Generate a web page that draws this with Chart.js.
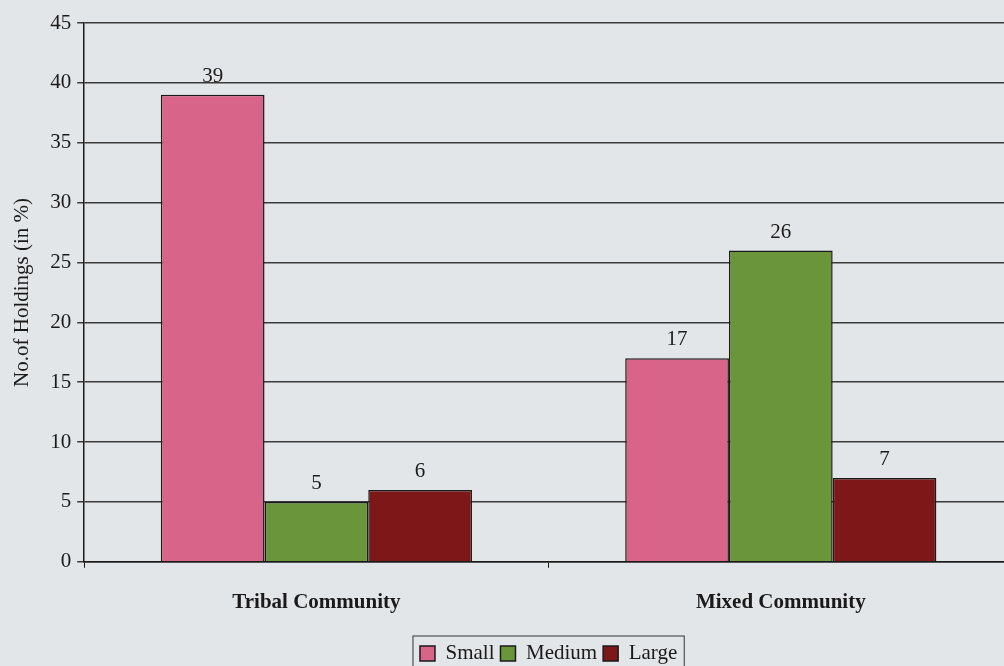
<!DOCTYPE html>
<html>
<head>
<meta charset="utf-8">
<script src="https://cdn.jsdelivr.net/npm/chart.js@4.4.1/dist/chart.umd.min.js"></script>
<style>
  html, body { margin: 0; padding: 0; overflow: hidden; background: #e3e6e9; }
  #wrap { width: 1013px; height: 666px; position: relative; }
</style>
</head>
<body>
<div id="wrap"><canvas id="myChart"></canvas></div>
<script>
// chart data
const categories = ['Tribal Community', 'Mixed Community'];
const small = [39, 17];
const medium = [5, 26];
const large = [6, 7];
const seriesNames = ['Small', 'Medium', 'Large'];
const yTicks = [0, 5, 10, 15, 20, 25, 30, 35, 40, 45];

const serif = '"Liberation Serif", "Times New Roman", serif';
const ink = '#1a1a1a';

// value labels above each bar
const barValues = {
    id: 'barValues',
    afterDatasetsDraw(chart) {
        const ctx = chart.ctx;
        ctx.save();
        ctx.font = '21px ' + serif;
        ctx.fillStyle = ink;
        ctx.textAlign = 'center';
        ctx.textBaseline = 'bottom';
        chart.data.datasets.forEach((ds, i) => {
            chart.getDatasetMeta(i).data.forEach((bar, j) => {
                ctx.fillText(ds.data[j], bar.x, bar.y - 8);
            });
        });
        ctx.restore();
    }
};

// box round the legend
const legendFrame = {
    id: 'legendFrame',
    afterDraw(chart) {
        const items = chart.legend.legendHitBoxes;
        if (!items.length) return;
        const x0 = items[0].left - 7;
        const last = items[items.length - 1];
        const x1 = last.left + last.width + 7;
        const ctx = chart.ctx;
        ctx.save();
        ctx.strokeStyle = '#333';
        ctx.lineWidth = 1;
        ctx.strokeRect(x0, items[0].top - 7, x1 - x0, 60);
        ctx.restore();
    }
};

const ctx = document.getElementById('myChart').getContext('2d');

const myChart = new Chart(ctx, {
    type: 'bar',
    data: {
        labels: categories,
        datasets: [
            { label: seriesNames[0], data: small, backgroundColor: '#d9648a' },
            { label: seriesNames[1], data: medium, backgroundColor: '#6a953a' },
            { label: seriesNames[2], data: large, backgroundColor: '#7e1818' }
        ].map(d => Object.assign(d, {
            borderColor: ink,
            borderWidth: 1.5,
            barPercentage: 1,
            categoryPercentage: 0.67
        }))
    },
    options: {
        responsive: true,
        maintainAspectRatio: false,
        animation: false,
        layout: { padding: { top: 23, left: 10, right: 0, bottom: -8 } },
        plugins: {
            tooltip: { enabled: false },
            legend: {
                position: 'bottom',
                fullSize: false,
                labels: {
                    font: { family: serif, size: 21 },
                    color: ink,
                    boxWidth: 15,
                    boxHeight: 15,
                    padding: 6,
                    useBorderRadius: false
                }
            }
        },
        scales: {
            x: {
                grid: { drawOnChartArea: false, color: ink, tickLength: 6, lineWidth: 1 },
                border: { color: ink, width: 1.5 },
                ticks: { font: { family: serif, size: 21, weight: 'bold' }, color: ink, padding: 22 }
            },
            y: {
                min: 0,
                max: 45,
                afterBuildTicks(axis) { axis.ticks = yTicks.map(v => ({ value: v })); },
                grid: { color: '#3a3a3a', lineWidth: 1.5, tickLength: 7 },
                border: { color: ink, width: 1.5 },
                ticks: { font: { family: serif, size: 21 }, color: ink, padding: 6 },
                title: {
                    display: true,
                    text: 'No.of Holdings (in %)',
                    font: { family: serif, size: 21 },
                    color: ink,
                    padding: { top: 0, bottom: 9 }
                }
            }
        }
    },
    plugins: [barValues, legendFrame]
});
</script>
</body>
</html>
